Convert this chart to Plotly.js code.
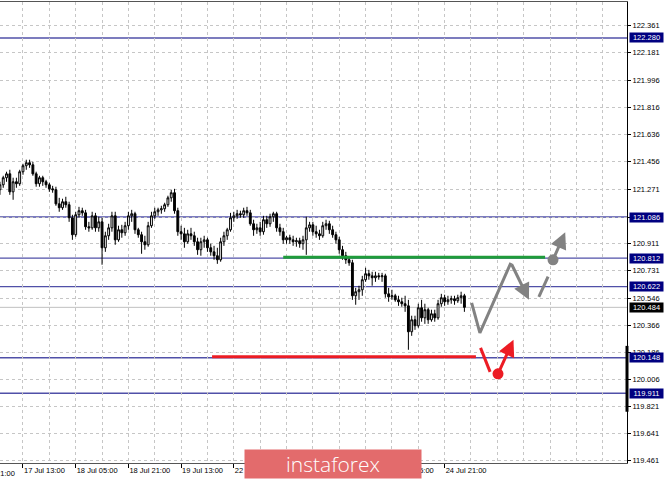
<!DOCTYPE html>
<html><head><meta charset="utf-8">
<script src="https://cdn.plot.ly/plotly-3.0.1.min.js"></script>
<style>html,body{margin:0;padding:0;background:#fff}#chart{width:665px;height:481px}</style>
</head><body><div id="chart"></div>
<script>
// H1 bars, first bar index -7 (17 Jul 13:00 = bar 0)
const firstBar = -7;
const opens = [
121.268,121.301,121.348,121.374,121.254,121.321,121.308,121.388,121.428,121.448,
121.434,121.374,121.308,121.348,121.321,121.301,121.274,121.268,121.174,121.148,
121.188,121.168,121.081,120.968,121.101,121.128,121.114,121.021,121.014,121.094,
121.014,121.054,120.881,120.961,121.014,121.094,120.934,121.001,120.981,121.028,
121.094,121.108,121.001,120.968,120.921,120.901,121.028,121.094,121.121,121.134,
121.141,121.168,121.214,121.248,121.128,120.988,120.974,120.921,120.974,120.961,
120.921,120.868,120.921,120.934,120.881,120.854,120.828,120.801,120.921,120.961,
121.001,121.081,121.094,121.108,121.101,121.128,121.114,121.041,121.001,121.014,
120.988,121.068,121.041,121.088,121.108,121.014,120.988,120.934,120.948,120.934,
120.921,120.928,120.908,120.934,121.014,121.034,120.988,120.974,120.961,121.028,
121.041,121.001,120.968,120.934,120.868,120.828,120.801,120.781,120.561,120.588,
120.601,120.668,120.708,120.694,120.681,120.694,120.688,120.694,120.574,120.554,
120.561,120.534,120.521,120.508,120.494,120.321,120.401,120.361,120.481,120.414,
120.468,120.401,120.441,120.414,120.508,120.548,120.521,120.534,120.541,120.528,
120.548,120.561];
const highs = [
121.321,121.361,121.388,121.401,121.348,121.348,121.401,121.441,121.468,121.468,
121.454,121.388,121.361,121.361,121.334,121.314,121.294,121.288,121.214,121.208,
121.221,121.188,121.101,121.121,121.154,121.148,121.134,121.054,121.121,121.114,
121.088,121.081,120.988,121.041,121.121,121.121,121.028,121.034,121.054,121.121,
121.134,121.121,121.014,120.988,120.961,121.054,121.121,121.148,121.148,121.161,
121.181,121.228,121.268,121.274,121.148,121.028,121.014,121.001,121.014,120.988,
120.948,120.948,120.961,120.948,120.908,120.894,120.881,120.948,120.988,121.014,
121.114,121.121,121.134,121.128,121.148,121.154,121.134,121.068,121.041,121.054,
121.094,121.094,121.108,121.121,121.121,121.041,121.014,120.961,120.968,120.961,
120.948,120.948,120.961,121.088,121.054,121.054,121.028,121.001,121.054,121.068,
121.061,121.028,120.988,120.954,120.894,120.854,120.814,120.801,120.614,120.628,
120.694,120.748,120.734,120.721,120.721,120.714,120.714,120.708,120.614,120.601,
120.574,120.561,120.548,120.561,120.534,120.428,120.428,120.508,120.534,120.508,
120.481,120.468,120.468,120.534,120.574,120.568,120.561,120.561,120.561,120.568,
120.588,120.574];
const lows = [
121.234,121.281,121.321,121.234,121.201,121.281,121.294,121.368,121.401,121.414,
121.361,121.288,121.288,121.294,121.281,121.254,121.248,121.161,121.121,121.134,
121.148,121.054,120.934,120.954,121.081,121.094,121.001,120.988,121.001,120.988,
120.988,120.768,120.854,120.934,120.988,120.901,120.921,120.948,120.961,121.001,
121.054,120.974,120.948,120.841,120.868,120.888,121.014,121.074,121.094,121.108,
121.121,121.154,121.188,121.108,120.961,120.934,120.881,120.908,120.934,120.894,
120.834,120.828,120.881,120.854,120.828,120.801,120.774,120.788,120.894,120.934,
120.988,121.054,121.074,121.081,121.081,121.094,121.028,120.961,120.974,120.961,
120.968,121.014,121.021,121.054,120.988,120.961,120.908,120.908,120.908,120.894,
120.888,120.881,120.868,120.834,120.988,120.961,120.948,120.934,120.948,121.001,
120.974,120.948,120.908,120.841,120.801,120.774,120.761,120.534,120.501,120.534,
120.561,120.654,120.668,120.628,120.654,120.668,120.654,120.548,120.521,120.534,
120.521,120.494,120.488,120.454,120.201,120.294,120.334,120.348,120.388,120.374,
120.374,120.388,120.388,120.401,120.488,120.494,120.501,120.508,120.501,120.514,
120.508,120.454];
const closes = [
121.301,121.348,121.374,121.254,121.321,121.308,121.388,121.428,121.448,121.434,
121.374,121.308,121.348,121.321,121.301,121.274,121.268,121.174,121.148,121.188,
121.168,121.081,120.968,121.101,121.128,121.114,121.021,121.014,121.094,121.014,
121.054,120.881,120.961,121.014,121.094,120.934,121.001,120.981,121.028,121.094,
121.108,121.001,120.968,120.921,120.901,121.028,121.094,121.121,121.134,121.141,
121.168,121.214,121.248,121.128,120.988,120.974,120.921,120.974,120.961,120.921,
120.868,120.921,120.934,120.881,120.854,120.828,120.801,120.921,120.961,121.001,
121.081,121.094,121.108,121.101,121.128,121.114,121.041,121.001,121.014,120.988,
121.068,121.041,121.088,121.108,121.014,120.988,120.934,120.948,120.934,120.921,
120.928,120.908,120.934,121.014,121.034,120.988,120.974,120.961,121.028,121.041,
121.001,120.968,120.934,120.868,120.828,120.801,120.781,120.561,120.588,120.601,
120.668,120.708,120.694,120.681,120.694,120.688,120.694,120.574,120.554,120.561,
120.534,120.521,120.508,120.494,120.321,120.401,120.361,120.481,120.414,120.468,
120.401,120.441,120.414,120.508,120.548,120.521,120.534,120.541,120.528,120.548,
120.561,120.484];

const tickBars = [0,16,32,48,64,80,96,112,128];
const tickLabels = ['17 Jul 13:00','18 Jul 05:00','18 Jul 21:00','19 Jul 13:00','22 Jul 05:00','22 Jul 21:00','23 Jul 13:00','24 Jul 05:00','24 Jul 21:00'];
const priceTicks = [122.361,122.181,121.996,121.816,121.636,121.456,121.271,121.086,120.911,120.731,120.546,120.366,120.186,120.006,119.821,119.641,119.461];
const levels = [122.280,121.086,120.812,120.622,120.148,119.911];
const lastPrice = 120.484;

// forecast drawing (bar index, price)
const resistX = [79, 158.5], resistY = [120.818, 120.818];
const supportX = [57.4, 137.5], supportY = [120.154, 120.154];
const grayPathX = [136.2, 138.7, 148.1], grayPathY = [120.514, 120.314, 120.781];
const grayArrowA = [148.1, 120.781, 153.6, 120.534];
const grayDashX = [156.6, 159.4], grayDashY = [120.554, 120.688];
const grayDotX = [160.9], grayDotY = [120.801];
const grayArrowB = [160.9, 120.801, 164.6, 120.985];
const redDashX = [138.9, 141.8], redDashY = [120.214, 120.054];
const redDotX = [144.2], redDotY = [120.041];
const redArrow = [144.2, 120.041, 148.9, 120.268];
const markerBar = [120.227, 119.788];

const barX = opens.map((_, i) => i + firstBar);
const FONT = 'Liberation Sans, Arial, sans-serif';
const GRID = '#c6c6c6';
const NAVY = '#000080';
const GRAY = '#828282';
const RED = '#ec1c24';

const traces = [
  {type:'candlestick', x:barX, open:opens, high:highs, low:lows, close:closes,
   increasing:{line:{color:'#000', width:1}, fillcolor:'#ffffff'},
   decreasing:{line:{color:'#000', width:1}, fillcolor:'#000000'},
   whiskerwidth:0, hoverinfo:'skip', showlegend:false},
  {type:'scatter', mode:'lines', x:resistX, y:resistY, line:{color:'#1f9c3a', width:3}, hoverinfo:'skip', showlegend:false},
  {type:'scatter', mode:'lines', x:supportX, y:supportY, line:{color:RED, width:3}, hoverinfo:'skip', showlegend:false},
  {type:'scatter', mode:'lines', x:grayPathX, y:grayPathY, line:{color:GRAY, width:3}, hoverinfo:'skip', showlegend:false},
  {type:'scatter', mode:'lines', x:grayDashX, y:grayDashY, line:{color:GRAY, width:3}, hoverinfo:'skip', showlegend:false},
  {type:'scatter', mode:'markers', x:grayDotX, y:grayDotY, marker:{color:GRAY, size:11}, hoverinfo:'skip', showlegend:false},
  {type:'scatter', mode:'lines', x:redDashX, y:redDashY, line:{color:RED, width:3}, hoverinfo:'skip', showlegend:false},
  {type:'scatter', mode:'markers', x:redDotX, y:redDotY, marker:{color:RED, size:11}, hoverinfo:'skip', showlegend:false}
];

const shapes = levels.map(v => ({type:'line', xref:'paper', x0:0, x1:1, yref:'y', y0:v, y1:v, layer:'below', line:{color:'#5050a8', width:1.4}}));
shapes.push({type:'line', xref:'paper', x0:0, x1:1, yref:'y', y0:lastPrice, y1:lastPrice, layer:'below', line:{color:'#c0c0c0', width:1}});
shapes.push({type:'line', xref:'paper', x0:1, x1:1, yref:'y', y0:markerBar[0], y1:markerBar[1], line:{color:'#000', width:3}});

function arrow(a, color) {
  return {xref:'x', yref:'y', axref:'x', ayref:'y', ax:a[0], ay:a[1], x:a[2], y:a[3], text:'', showarrow:true,
          arrowhead:2, arrowsize:1.1, arrowwidth:3, arrowcolor:color, standoff:0, startstandoff:0};
}
const annotations = [arrow(grayArrowA, GRAY), arrow(grayArrowB, GRAY), arrow(redArrow, RED)];
levels.forEach(v => annotations.push({xref:'paper', x:1.003, xanchor:'left', yref:'y', y:v, yanchor:'middle',
  text:v.toFixed(3), showarrow:false, bgcolor:NAVY, width:33, height:9, borderpad:0, align:'center',
  font:{family:FONT, size:7.5, color:'#ffffff'}}));
annotations.push({xref:'paper', x:1.003, xanchor:'left', yref:'y', y:lastPrice, yanchor:'middle',
  text:lastPrice.toFixed(3), showarrow:false, bgcolor:'#000000', width:33, height:9, borderpad:0, align:'center',
  font:{family:FONT, size:7.5, color:'#ffffff'}});
annotations.push({xref:'paper', x:-0.044, xanchor:'left', yref:'paper', y:-0.0085, yanchor:'top',
  text:'16 Jul 21:00', showarrow:false, font:{family:FONT, size:7.5, color:'#000'}});
annotations.push({xref:'paper', x:0.531, xanchor:'center', yref:'paper', y:-0.002, yanchor:'middle',
  text:'instaforex', showarrow:false, bgcolor:'#e36b6c', width:172, height:24, borderpad:2,
  font:{family:'Open Sans, Roboto, sans-serif', size:21, color:'#ffffff', weight:300}});

const layout = {
  width:665, height:481,
  margin:{l:0, r:38, t:2, b:18},
  paper_bgcolor:'#ffffff', plot_bgcolor:'#ffffff',
  showlegend:false,
  boxgap:0.2,
  font:{family:FONT, size:7.5, color:'#000'},
  xaxis:{type:'linear', range:[-6.98, 183.36], rangeslider:{visible:false},
    tickmode:'array', tickvals:tickBars, ticktext:tickLabels, ticklabelposition:'outside right',
    ticks:'outside', ticklen:4, tickcolor:'#000', tickfont:{family:FONT, size:7.5, color:'#000'},
    showgrid:true, gridcolor:GRID, griddash:'3px,3px', gridwidth:1,
    minor:{tickmode:'linear', tick0:0, dtick:8, showgrid:true, gridcolor:GRID, griddash:'3px,3px', gridwidth:1, ticks:''},
    showline:true, linecolor:'#555', linewidth:1, mirror:true, zeroline:false, fixedrange:true},
  yaxis:{side:'right', range:[119.4462, 122.5195], tickmode:'array', tickvals:priceTicks,
    ticktext:priceTicks.map(v => v.toFixed(3)),
    ticks:'outside', ticklen:3, tickcolor:'#000', tickfont:{family:FONT, size:7.5, color:'#000'},
    showgrid:true, gridcolor:GRID, griddash:'3px,3px', gridwidth:1,
    showline:true, linecolor:'#000', linewidth:1, zeroline:false, fixedrange:true},
  shapes:shapes,
  annotations:annotations
};

Plotly.newPlot('chart', traces, layout, {staticPlot:true, displayModeBar:false});
</script>
</body></html>
